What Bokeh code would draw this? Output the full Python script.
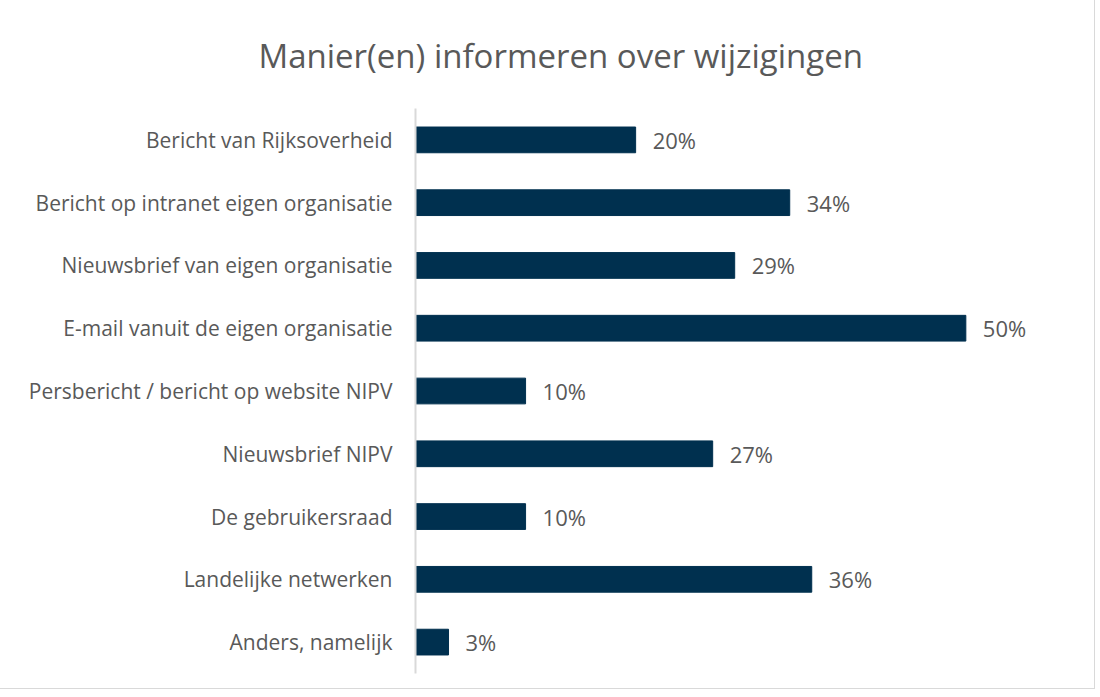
from bokeh.plotting import figure
from bokeh.models import ColumnDataSource, FactorRange, Range1d
from bokeh.core.properties import value
from bokeh.embed import file_html
from bokeh.resources import INLINE

categories = [
    "Bericht van Rijksoverheid",
    "Bericht op intranet eigen organisatie",
    "Nieuwsbrief van eigen organisatie",
    "E-mail vanuit de eigen organisatie",
    "Persbericht / bericht op website NIPV",
    "Nieuwsbrief NIPV",
    "De gebruikersraad",
    "Landelijke netwerken",
    "Anders, namelijk",
]
values = [20, 34, 29, 50, 10, 27, 10, 36, 3]
labels = [f"{v}%" for v in values]

FONT = "Open Sans"
TEXT = "#595959"
BAR = "#00304F"

src = ColumnDataSource(dict(cat=categories, val=values, lab=labels))

p = figure(
    width=1094, height=688,
    y_range=FactorRange(factors=list(reversed(categories))),
    x_range=Range1d(0, 58.6),
    output_backend="svg", toolbar_location=None,
    min_border_left=415, min_border_right=34,
    min_border_top=107, min_border_bottom=15,
    title="Manier(en) informeren over wijzigingen",
)
p.styles = {"outline": "1px solid #d9d9d9"}

p.title.align = "left"
p.title.offset = -157
p.title.standoff = 61
p.title.text_font = FONT
p.title.text_font_size = "33px"
p.title.text_font_style = "normal"
p.title.text_color = TEXT

p.hbar(y="cat", right="val", height=0.41, left=0, source=src,
       fill_color=BAR, line_color=BAR)
p.text(x="val", y="cat", text="lab", source=src, x_offset=17,
       text_align="left", text_baseline="middle",
       text_font=value(FONT), text_font_size="22px", text_color=TEXT)

p.xaxis.visible = False
p.xgrid.visible = False
p.ygrid.visible = False
p.outline_line_color = None

ax = p.yaxis[0]
ax.axis_line_color = "#d9d9d9"
ax.axis_line_width = 2
ax.major_tick_line_color = None
ax.minor_tick_line_color = None
ax.major_tick_out = 0
ax.major_label_standoff = 23
ax.major_label_text_font = FONT
ax.major_label_text_font_size = "21px"
ax.major_label_text_color = TEXT

open("out.html", "w").write(file_html(p, INLINE))
